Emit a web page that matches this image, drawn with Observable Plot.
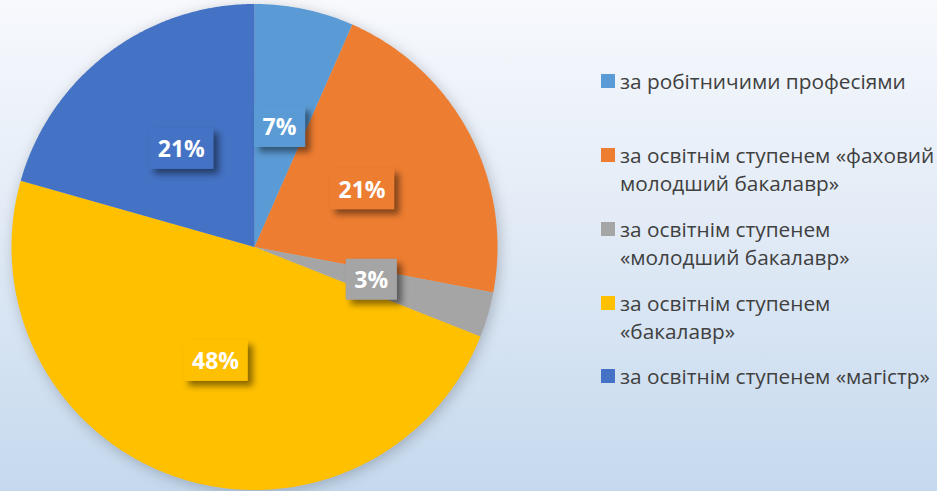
<!DOCTYPE html>
<html>
<head>
<meta charset="utf-8">
<script src="https://cdn.jsdelivr.net/npm/d3@7"></script>
<script src="https://cdn.jsdelivr.net/npm/@observablehq/plot@0.6"></script>
<style>
  body { margin: 0; }
  #wrap {
    position: relative; width: 937px; height: 491px; overflow: hidden;
    background: linear-gradient(to bottom, #f7f9fd 0%, #e2ebf6 45%, #c5d9ee 100%);
    font-family: "Open Sans", sans-serif;
  }
  #chart { position: absolute; left: 0; top: 0; }
  .sw { position: absolute; width: 14px; height: 14px; }
  .lt { position: absolute; font-size: 20.8px; line-height: 28px; color: #404040; white-space: nowrap; }
</style>
</head>
<body>
<div id="wrap"><div id="chart"></div><div id="legend"></div></div>
<script>
const categories = [
  "за робітничими професіями",
  "за освітнім ступенем «фаховий молодший бакалавр»",
  "за освітнім ступенем «молодший бакалавр»",
  "за освітнім ступенем «бакалавр»",
  "за освітнім ступенем «магістр»"
];
const shares = [6.6, 21.4, 3.0, 48.4, 20.6];
const labels = ["7%", "21%", "3%", "48%", "21%"];
const colors = ["#5b9bd5", "#ed7d31", "#a5a5a5", "#ffc000", "#4472c4"];
const legendLines = [
  ["за робітничими професіями"],
  ["за освітнім ступенем «фаховий", "молодший бакалавр»"],
  ["за освітнім ступенем", "«молодший бакалавр»"],
  ["за освітнім ступенем", "«бакалавр»"],
  ["за освітнім ступенем «магістр»"]
];

const data = categories.map((c, i) => ({cat: c, value: shares[i], label: labels[i]}));
const arcs = d3.pie().sort(null).value(d => d.value)(data);

// polygon outline of each slice in data units (radius 1)
const pts = [];
arcs.forEach(a => {
  pts.push({cat: a.data.cat, x: 0, y: 0});
  const n = Math.max(2, Math.ceil((a.endAngle - a.startAngle) / 0.01));
  for (let k = 0; k <= n; k++) {
    const t = a.startAngle + (a.endAngle - a.startAngle) * k / n;
    pts.push({cat: a.data.cat, x: Math.sin(t), y: Math.cos(t)});
  }
});
const lab = arcs.map(a => {
  const m = (a.startAngle + a.endAngle) / 2;
  return {cat: a.data.cat, label: a.data.label, x: 0.5 * Math.sin(m), y: 0.5 * Math.cos(m)};
});

const svg = Plot.plot({
  width: 937, height: 491,
  marginLeft: 11, marginRight: 440, marginTop: 3.5, marginBottom: 1.5,
  style: "background: transparent; overflow: visible;",
  x: {domain: [-1, 1], axis: null},
  y: {domain: [-1, 1], axis: null},
  color: {domain: categories, range: colors},
  marks: [
    Plot.line(pts, {x: "x", y: "y", z: "cat", fill: "cat", stroke: "none"}),
    Plot.text(lab, {x: "x", y: "y", text: "label", fill: "white", fontWeight: "bold", fontSize: 23, fontFamily: "Open Sans"})
  ]
});
document.getElementById("chart").appendChild(svg);

// pie soft shadow
const lineG = svg.querySelector('g[aria-label="line"]');
if (lineG) lineG.style.filter = "drop-shadow(2px 3px 7px rgba(0,0,0,0.22))";

// label boxes behind text
const ns = "http://www.w3.org/2000/svg";
const textG = svg.querySelector('g[aria-label="text"]');
if (textG) {
  textG.querySelectorAll("text").forEach((t, i) => {
    const b = t.getBBox();
    const r = document.createElementNS(ns, "rect");
    r.setAttribute("x", b.x - 8.5);
    r.setAttribute("y", b.y - 4.5);
    r.setAttribute("width", b.width + 17);
    r.setAttribute("height", b.height + 9);
    r.setAttribute("fill", colors[i]);
    if (t.getAttribute("transform")) r.setAttribute("transform", t.getAttribute("transform"));
    r.style.filter = "drop-shadow(5px 5px 3px rgba(0,0,0,0.45))";
    textG.insertBefore(r, t);
  });
}

// legend
const leg = document.getElementById("legend");
const centers = [81, 155, 229, 303, 376];
legendLines.forEach((lines, i) => {
  const sw = document.createElement("div");
  sw.className = "sw";
  sw.style.left = "601px";
  sw.style.top = (centers[i] - 7) + "px";
  sw.style.background = colors[i];
  leg.appendChild(sw);
  const tx = document.createElement("div");
  tx.className = "lt";
  tx.style.left = "620px";
  tx.style.top = (centers[i] - 14) + "px";
  tx.innerHTML = lines.join("<br>");
  leg.appendChild(tx);
});
</script>
</body>
</html>
